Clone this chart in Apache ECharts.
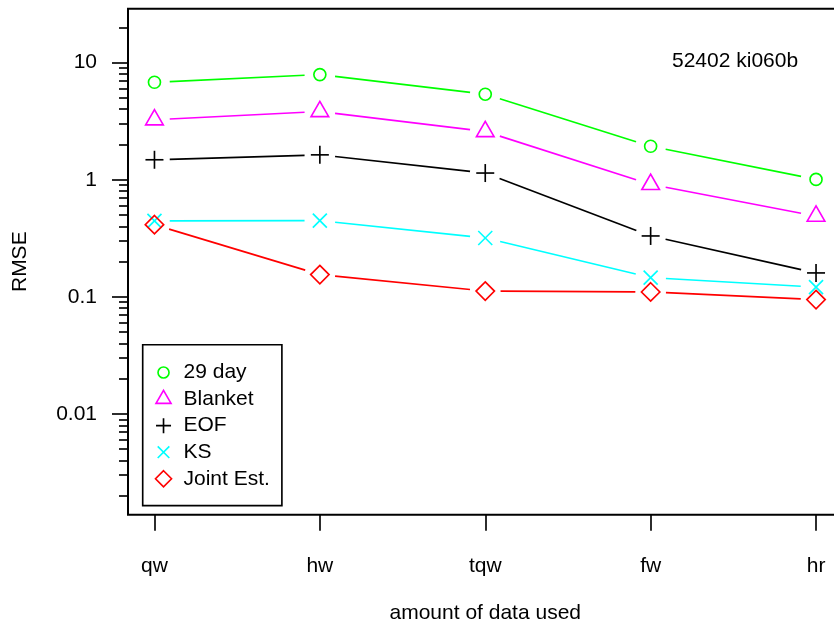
<!DOCTYPE html>
<html><head><meta charset="utf-8">
<script src="https://cdn.jsdelivr.net/npm/echarts@6/dist/echarts.min.js"></script>
<style>html,body{margin:0;padding:0;background:#fff}#c{width:834px;height:628px}</style>
</head><body><div id="c"></div>
<script>
// ---- data ----
const categories = ['qw', 'hw', 'tqw', 'fw', 'hr'];
const xPositions = [1, 2, 3, 4, 5];
const seriesNames = ['29 day', 'Blanket', 'EOF', 'KS', 'Joint Est.'];
const day29   = [6.79, 7.90, 5.37, 1.93, 1.006];
const blanket = [3.25, 3.82, 2.58, 0.912, 0.489];
const eof     = [1.48, 1.63, 1.14, 0.331, 0.160];
const ks      = [0.445, 0.447, 0.318, 0.146, 0.121];
const joint   = [0.413, 0.155, 0.112, 0.110, 0.0948];
const yMajorTicks = [0.01, 0.1, 1, 10];
const yMajorLabels = ['0.01', '0.1', '1', '10'];
const yMinorTicks = [0.002, 0.003, 0.004, 0.005, 0.006, 0.007, 0.008, 0.009,
                     0.02, 0.03, 0.04, 0.05, 0.06, 0.07, 0.08, 0.09,
                     0.2, 0.3, 0.4, 0.5, 0.6, 0.7, 0.8, 0.9,
                     2, 3, 4, 5, 6, 7, 8, 9, 20];
const xRange = [0.84, 5.16];
const yRange = [Math.pow(10, -2.86), Math.pow(10, 1.46)];
const annotation = '52402 ki060b';

// ---- style ----
const FONT = '"Liberation Sans", Arial, Helvetica, sans-serif';
const FS = 21;
const LW = 1.65;
const GAP = 15.3;
const colors = ['#00FF00', '#FF00FF', '#000000', '#00FFFF', '#FF0000'];
const shapes = ['circle', 'triangle', 'plus', 'cross', 'diamond'];
const seriesValues = [day29, blanket, eof, ks, joint];

const legendIcons = {
  circle:   'path://M0,0 M20,20 M15.5,10 A5.5,5.5 0 1,1 4.5,10 A5.5,5.5 0 1,1 15.5,10 Z',
  triangle: 'path://M0,0 M20,20 M10,1.3 L17.5,14.3 L2.5,14.3 Z',
  plus:     'path://M0,0 M20,20 M2.5,10 L17.5,10 M10,2.5 L10,17.5',
  cross:    'path://M0,0 M20,20 M4.2,4.2 L15.8,15.8 M15.8,4.2 L4.2,15.8',
  diamond:  'path://M0,0 M20,20 M10,2 L18,10 L10,18 L2,10 Z'
};

function marker(shape, x, y, color) {
  const st = {fill: 'none', stroke: color, lineWidth: LW};
  switch (shape) {
    case 'circle': return {type: 'circle', shape: {cx: x, cy: y, r: 6}, style: st};
    case 'triangle': return {type: 'polygon', shape: {points: [[x, y - 10.2], [x + 8.8, y + 5.1], [x - 8.8, y + 5.1]]}, style: st};
    case 'plus': return {type: 'group', children: [
      {type: 'line', shape: {x1: x - 9, y1: y, x2: x + 9, y2: y}, style: st},
      {type: 'line', shape: {x1: x, y1: y - 9, x2: x, y2: y + 9}, style: st}]};
    case 'cross': return {type: 'group', children: [
      {type: 'line', shape: {x1: x - 7, y1: y - 7, x2: x + 7, y2: y + 7}, style: st},
      {type: 'line', shape: {x1: x + 7, y1: y - 7, x2: x - 7, y2: y + 7}, style: st}]};
    case 'diamond': return {type: 'polygon', shape: {points: [[x, y - 9.2], [x + 9.2, y], [x, y + 9.2], [x - 9.2, y]]}, style: st};
  }
}

function makeRender(shape, color) {
  return function (params, api) {
    const p = api.coord([api.value(0), api.value(1)]);
    const children = [marker(shape, p[0], p[1], color)];
    const nx = api.value(2), ny = api.value(3);
    if (!isNaN(nx) && !isNaN(ny) && nx != null) {
      const q = api.coord([nx, ny]);
      const dx = q[0] - p[0], dy = q[1] - p[1];
      const L = Math.sqrt(dx * dx + dy * dy);
      if (L > 2 * GAP) {
        const ux = dx / L, uy = dy / L;
        children.push({type: 'line', shape: {
          x1: p[0] + ux * GAP, y1: p[1] + uy * GAP,
          x2: q[0] - ux * GAP, y2: q[1] - uy * GAP},
          style: {stroke: color, lineWidth: LW}});
      }
    }
    return {type: 'group', children: children};
  };
}

const series = seriesNames.map(function (name, k) {
  const vals = seriesValues[k];
  const data = xPositions.map(function (x, i) {
    return i < xPositions.length - 1 ? [x, vals[i], xPositions[i + 1], vals[i + 1]] : [x, vals[i], NaN, NaN];
  });
  return {
    type: 'custom', name: name, data: data,
    encode: {x: 0, y: 1},
    itemStyle: {color: colors[k]},
    renderItem: makeRender(shapes[k], colors[k]),
    silent: true, animation: false, clip: false
  };
});

const chart = echarts.init(document.getElementById('c'));
chart.setOption({
  animation: false,
  backgroundColor: '#fff',
  textStyle: {fontFamily: FONT},
  title: {
    text: annotation, left: 672, top: 50.5, padding: 0,
    textStyle: {fontFamily: FONT, fontSize: FS, fontWeight: 'normal', color: '#000'}
  },
  grid: {
    left: 128, top: 8.7, width: 714.5, height: 506,
    show: true, borderColor: '#000', borderWidth: 2, backgroundColor: 'transparent',
    containLabel: false, outerBoundsMode: 'none'
  },
  legend: {
    left: 142.7, top: 344.7, orient: 'vertical',
    padding: [17, 12, 16, 10],
    itemWidth: 20, itemHeight: 20, itemGap: 4.9,
    borderColor: '#000', borderWidth: 1.65, backgroundColor: '#fff',
    selectedMode: false,
    textStyle: {fontFamily: FONT, fontSize: FS, color: '#000', lineHeight: 20, padding: [0, 0, 0, 5]},
    data: seriesNames.map(function (n, k) {
      return {name: n, icon: legendIcons[shapes[k]],
        itemStyle: {color: 'rgba(0,0,0,0)', borderColor: colors[k], borderWidth: LW}};
    })
  },
  xAxis: {
    type: 'value', min: xRange[0], max: xRange[1],
    name: 'amount of data used', nameLocation: 'middle', nameGap: 88,
    nameTextStyle: {fontFamily: FONT, fontSize: FS, color: '#000'},
    axisLine: {show: false},
    splitLine: {show: false},
    axisTick: {show: true, customValues: xPositions, length: 16, inside: false,
      lineStyle: {color: '#000', width: LW}},
    axisLabel: {show: true, customValues: xPositions, margin: 41,
      fontFamily: FONT, fontSize: FS, color: '#000',
      formatter: function (v) { return categories[Math.round(v) - 1]; }}
  },
  yAxis: [{
    type: 'log', logBase: 10, min: yRange[0], max: yRange[1],
    name: 'RMSE', nameLocation: 'middle', nameGap: 97,
    nameTextStyle: {fontFamily: FONT, fontSize: FS, color: '#000'},
    axisLine: {show: false},
    splitLine: {show: false},
    minorTick: {show: false},
    axisTick: {show: true, customValues: yMajorTicks, length: 16,
      lineStyle: {color: '#000', width: LW}},
    axisLabel: {show: true, customValues: yMajorTicks, margin: 31,
      fontFamily: FONT, fontSize: FS, color: '#000',
      formatter: function (v) {
        const i = yMajorTicks.findIndex(function (t) { return Math.abs(Math.log10(t) - Math.log10(v)) < 1e-6; });
        return i >= 0 ? yMajorLabels[i] : '';
      }}
  }, {
    type: 'log', logBase: 10, min: yRange[0], max: yRange[1],
    position: 'left',
    axisLine: {show: false}, splitLine: {show: false}, axisLabel: {show: false},
    axisTick: {show: true, customValues: yMinorTicks, length: 9,
      lineStyle: {color: '#000', width: LW}}
  }],
  series: series
});
</script></body></html>
